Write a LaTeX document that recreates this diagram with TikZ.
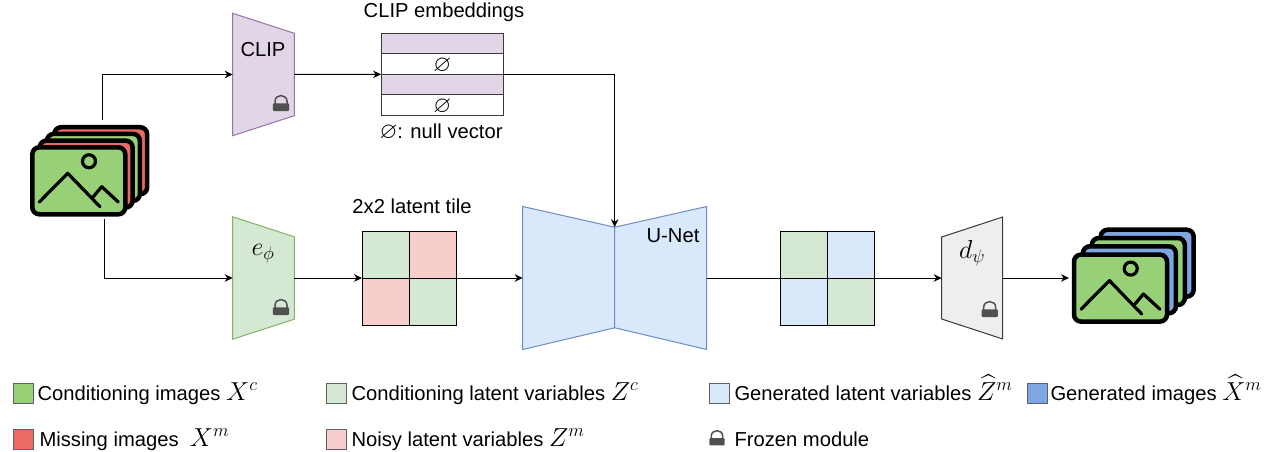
\documentclass[tikz,border=0pt]{standalone}
\usepackage{fix-cm}
\usepackage{amssymb}
\usepackage{fontspec}
\setmainfont{Liberation Sans}
\usetikzlibrary{calc,arrows.meta}

\definecolor{imggreen}{HTML}{97D077}
\definecolor{imgred}{HTML}{EA6B66}
\definecolor{imgblue}{HTML}{7EA6E0}
\definecolor{clipfill}{HTML}{E1D5E7}
\definecolor{clipline}{HTML}{9673A6}
\definecolor{condfill}{HTML}{D5E8D4}
\definecolor{condline}{HTML}{82B366}
\definecolor{noisyfill}{HTML}{F8CECC}
\definecolor{genfill}{HTML}{DAE8FC}
\definecolor{genline}{HTML}{6C8EBF}
\definecolor{decfill}{HTML}{EEEEEE}
\definecolor{decline}{HTML}{36393D}
\definecolor{lockgray}{HTML}{505050}

\tikzset{
  box/.style={inner sep=0pt, outer sep=0pt},
  label/.style={inner sep=0pt, font=\fontsize{20.2}{20.2}\selectfont},
  imgcard/.style={draw=black, line width=4.5pt, rounded corners=7pt},
  imgline/.style={draw=black, line width=3.2pt, line cap=round, line join=round},
  embrow/.style={draw=decline, line width=1pt, minimum width=122.3pt, minimum height=20.5pt, inner sep=0pt, outer sep=0pt},
  tilecell/.style={draw=black, line width=1pt, minimum size=47pt, inner sep=0pt, outer sep=0pt},
  legendsq/.style={draw=decline!80, line width=1pt, minimum size=20pt, inner sep=0pt}
}

\newcommand{\imgstack}[5]{
  \begin{scope}[shift={(#1,#2)}]
    \draw[imgcard, fill=#5] ({3*#3},{-3*#4}) rectangle ({93+3*#3},{67-3*#4});
    \draw[imgcard, fill=imggreen] ({2*#3},{-2*#4}) rectangle ({93+2*#3},{67-2*#4});
    \draw[imgcard, fill=#5] (#3,-#4) rectangle ({93+#3},{67-#4});
    \draw[imgcard, fill=imggreen] (0,0) rectangle (93,67);
    \draw[imgline] (7,54.7) -- (35.4,26) -- (67.7,59.4);
    \draw[imgline] (61,49.4) -- (69.4,39.4) -- (86,54.7);
    \draw[black, line width=3.2pt] (56.7,14) circle (6.5pt);
  \end{scope}
}

\newcommand{\lockicon}[3]{
  \begin{scope}[shift={(#1,#2)}, scale=#3]
    \fill[lockgray, rounded corners=1pt] (-8.1,0) rectangle (8.1,7.7);
    \draw[lockgray, line width=1.5pt] (-6,0.5) -- (-6,-2) .. controls (-6,-9.6) and (6,-9.6) .. (6,-2) -- (6,0.5);
  \end{scope}
}

\newcommand{\mathbig}[1]{{\fontsize{26}{26}\selectfont$#1$}}
\newcommand{\nullsym}{{\fontsize{23}{23}\selectfont$\varnothing$}}
\newcommand{\nullrow}{\raisebox{-7pt}[0pt][0pt]{\nullsym}}

\begin{document}
\begin{tikzpicture}[x=1pt, y=-1pt, >={Stealth[length=8pt, width=7.5pt]}, line width=1pt]

\useasboundingbox (0,0) rectangle (1272,452);

\imgstack{32.3}{147.3}{7.3}{6.7}{imgred}
\imgstack{1074}{254.6}{8.9}{8.3}{imgblue}

\coordinate (condtop) at (102,120);
\coordinate (condbot) at (104,219);
\coordinate (genimg) at (1069,278);

\node[box, minimum width=61.6pt, minimum height=122.4pt] (clip) at (263.5,74.5) {};
\node[box, minimum width=61.6pt, minimum height=122.4pt] (ephi) at (263.5,278) {};
\node[box, minimum width=61pt, minimum height=122pt] (dpsi) at (972.2,278) {};
\node[box, minimum width=92pt, minimum height=143pt] (unetl) at (568.7,278) {};
\node[box, minimum width=92pt, minimum height=143pt] (unetr) at (660.7,278) {};

\draw[fill=clipfill, draw=clipline] (clip.north west) -- ($(clip.north east) + (0,20)$) -- ($(clip.south east) + (0,-20)$) -- (clip.south west) -- cycle;
\draw[fill=condfill, draw=condline] (ephi.north west) -- ($(ephi.north east) + (0,20)$) -- ($(ephi.south east) + (0,-20)$) -- (ephi.south west) -- cycle;
\draw[fill=decfill, draw=decline] (dpsi.north east) -- ($(dpsi.north west) + (0,20)$) -- ($(dpsi.south west) + (0,-20)$) -- (dpsi.south east) -- cycle;
\draw[fill=genfill, draw=genline] (unetl.north west) -- ($(unetl.north east) + (0,20.7)$) -- ($(unetl.south east) + (0,-21.7)$) -- (unetl.south west) -- cycle;
\draw[fill=genfill, draw=genline] (unetr.north east) -- ($(unetr.north west) + (0,20.7)$) -- ($(unetr.south west) + (0,-21.7)$) -- (unetr.south east) -- cycle;

\coordinate (unettop) at ($(unetl.north east) + (0,20.7)$);

\lockicon{281}{103.3}{1}
\lockicon{281}{307.3}{1}
\lockicon{989.7}{309.3}{1}
\lockicon{717}{438}{0.95}

\node[label] (cliptext) at (263,50) {CLIP};
\node[label] (ephitext) at (263,254) {\mathbig{e_\phi}};
\node[label] (dpsitext) at (972,253) {\mathbig{d_\psi}};
\node[label] (unettext) at (673,236) {U-Net};

\node[embrow, fill=clipfill] (emb1) at (442.2,43.6) {};
\node[embrow, fill=white] (emb2) at ($(emb1) + (0,20.5)$) {\nullrow};
\node[embrow, fill=clipfill] (emb3) at ($(emb1) + (0,41)$) {};
\node[embrow, fill=white] (emb4) at ($(emb1) + (0,61.5)$) {\nullrow};

\node[label] (embtext) at (444,12) {CLIP embeddings};
\node[label, anchor=base west] (nulltext) at (379,138) {\nullsym: null vector};

\node[tilecell, fill=condfill] (lat11) at (385.5,254.5) {};
\node[tilecell, fill=noisyfill] (lat12) at ($(lat11) + (47,0)$) {};
\node[tilecell, fill=noisyfill] (lat21) at ($(lat11) + (0,47)$) {};
\node[tilecell, fill=condfill] (lat22) at ($(lat11) + (47,47)$) {};
\node[label] (lattext) at (412,206) {2x2 latent tile};

\node[tilecell, fill=condfill] (gen11) at (803.5,254.5) {};
\node[tilecell, fill=genfill] (gen12) at ($(gen11) + (47,0)$) {};
\node[tilecell, fill=genfill] (gen21) at ($(gen11) + (0,47)$) {};
\node[tilecell, fill=condfill] (gen22) at ($(gen11) + (47,47)$) {};

\draw[->] (condtop) |- (clip.west);
\draw[->] (condbot) |- (ephi.west);
\draw[->] (clip.east) -- (emb2.south west);
\draw[->] (emb2.south east) -| (unettop);
\draw[->] (ephi.east) -- (lat21.north west);
\draw[->] (lat12.south east) -- (unetl.west);
\draw (unetr.east) -- (gen21.north west);
\draw[->] (gen12.south east) -- (dpsi.west);
\draw[->] (dpsi.east) -- (genimg);

\node[legendsq, fill=imggreen] (legcond) at (23.5,393.5) {};
\node[legendsq, fill=imgred] (legmiss) at (23.5,439) {};
\node[legendsq, fill=condfill] (leglat) at (336.5,393.5) {};
\node[legendsq, fill=noisyfill] (legnoisy) at (336.5,439) {};
\node[legendsq, fill=genfill] (leggen) at (719.5,393.5) {};
\node[legendsq, fill=imgblue] (legimg) at (1037,393.5) {};

\node[label, anchor=base west] (txtcond) at (37,400) {Conditioning images \mathbig{X^c}};
\node[label, anchor=base west] (txtmiss) at (39,446) {Missing images\ \ \mathbig{X^m}};
\node[label, anchor=base west] (txtlat) at (351,400) {Conditioning latent variables \mathbig{Z^c}};
\node[label, anchor=base west] (txtnoisy) at (351,446) {Noisy latent variables \mathbig{Z^m}};
\node[label, anchor=base west] (txtgen) at (734,400) {Generated latent variables \mathbig{\widehat{Z}^m}};
\node[label, anchor=base west] (txtimg) at (1050,400) {Generated images \mathbig{\widehat{X}^m}};
\node[label, anchor=base west] (txtlock) at (734,446) {Frozen module};

\end{tikzpicture}
\end{document}
